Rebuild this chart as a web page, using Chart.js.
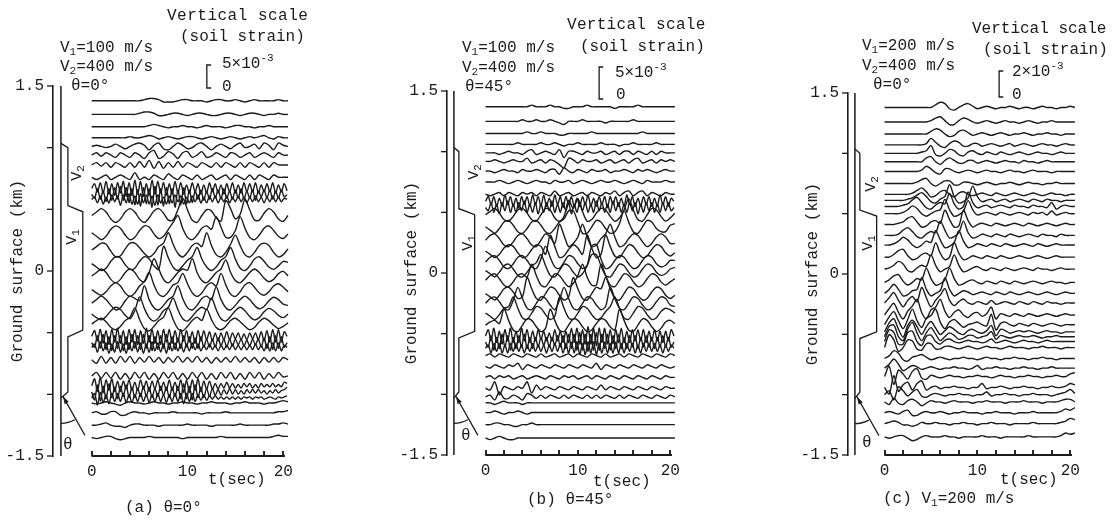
<!DOCTYPE html>
<html>
<head>
<meta charset="utf-8">
<script src="https://cdn.jsdelivr.net/npm/chart.js@4.4.1/dist/chart.umd.min.js"></script>
<style>
  body { margin: 0; background: #fff; width: 1116px; height: 520px; position: relative; overflow: hidden;
         font-family: "Liberation Mono", monospace; color: #1b1b1b; }
  canvas { position: absolute; top: 0; }
  #overlay { left: 0; z-index: 3; pointer-events: none; }
  .t { position: absolute; white-space: nowrap; font-size: 16px; line-height: 18px; z-index: 2; }
  .rot { position: absolute; white-space: nowrap; font-size: 15px; line-height: 16px; transform: translate(-50%, -50%) rotate(-90deg); z-index: 2; }
  sub { font-size: 11px; vertical-align: -3px; line-height: 0; }
  sup { font-size: 11px; vertical-align: 7px; line-height: 0; }
</style>
</head>
<body>
<canvas id="panelA"></canvas>
<canvas id="panelB"></canvas>
<canvas id="panelC"></canvas>

<!-- panel (a) -->
<div class="t" style="left:167px;top:7px;letter-spacing:0.5px">Vertical scale</div>
<div class="t" style="left:180px;top:28px">(soil strain)</div>
<div class="t" style="left:60px;top:39px">V<sub>1</sub>=100 m/s</div>
<div class="t" style="left:60px;top:58px">V<sub>2</sub>=400 m/s</div>
<div class="t" style="left:71px;top:77px">θ=0°</div>
<div class="t" style="left:222px;top:55px">5×10<sup>-3</sup></div>
<div class="t" style="left:222px;top:78px">0</div>
<div class="t" style="left:208px;top:471px">t(sec)</div>
<div class="t" style="left:125px;top:499px">(a) θ=0°</div>
<div class="rot" style="left:78px;top:173px">V<sub>2</sub></div>
<div class="rot" style="left:73px;top:237px">V<sub>1</sub></div>
<div class="t" style="left:63px;top:436px">θ</div>

<!-- panel (b) -->
<div class="t" style="left:567px;top:16px;letter-spacing:0.3px">Vertical scale</div>
<div class="t" style="left:580px;top:38px">(soil strain)</div>
<div class="t" style="left:462px;top:39px">V<sub>1</sub>=100 m/s</div>
<div class="t" style="left:462px;top:59px">V<sub>2</sub>=400 m/s</div>
<div class="t" style="left:465px;top:78px">θ=45°</div>
<div class="t" style="left:615px;top:64px">5×10<sup>-3</sup></div>
<div class="t" style="left:616px;top:86px">0</div>
<div class="t" style="left:593px;top:473px">t(sec)</div>
<div class="t" style="left:527px;top:491px">(b) θ=45°</div>
<div class="rot" style="left:475px;top:172px">V<sub>2</sub></div>
<div class="rot" style="left:469px;top:243px">V<sub>1</sub></div>
<div class="t" style="left:461px;top:427px">θ</div>

<!-- panel (c) -->
<div class="t" style="left:972px;top:20px">Vertical scale</div>
<div class="t" style="left:983px;top:41px">(soil strain)</div>
<div class="t" style="left:862px;top:37px">V<sub>1</sub>=200 m/s</div>
<div class="t" style="left:862px;top:57px">V<sub>2</sub>=400 m/s</div>
<div class="t" style="left:873px;top:76px">θ=0°</div>
<div class="t" style="left:1012px;top:63px">2×10<sup>-3</sup></div>
<div class="t" style="left:1012px;top:86px">0</div>
<div class="t" style="left:1000px;top:471px">t(sec)</div>
<div class="t" style="left:883px;top:490px">(c) V<sub>1</sub>=200 m/s</div>
<div class="rot" style="left:872px;top:184px">V<sub>2</sub></div>
<div class="rot" style="left:869px;top:243px">V<sub>1</sub></div>
<div class="t" style="left:862px;top:434px">θ</div>

<canvas id="overlay" width="1116" height="520"></canvas>

<script>
// axis ticks
const timeTicks = [0, 10, 20];
const rulerTicks = [0, 2, 4, 6, 8, 10, 12, 14, 16, 18, 20];
const depthTicks = [-1.5, -1, -0.5, 0, 0.5, 1, 1.5];
const depthLabels = ['-1.5', '', '', '0', '', '', '1.5'];

// soil profile: V2 / V1 / V2 layer boundaries (km)
const layerDepths = [1.0, 0.5, -0.5, -1.0];

// vertical scale bar and amplitude unit of the trace values (strain)
const scaleBar = [5e-3, 5e-3, 2e-3];
const ampUnit = [0.25e-3, 0.25e-3, 0.1e-3];

// sampling of the traces (s): normal and fine (dense bands)
const DT = 0.5;
const DT_FINE = 0.3;

// ---------- (a) theta = 0, V1 = 100 m/s ----------
const depthsA = [1.38, 1.27, 1.17, 1.08, 1.01, 0.94, 0.86, 0.76, 0.67, 0.62, 0.58, 0.45, 0.31, 0.17, 0.06, -0.04,
  -0.15, -0.26, -0.35, -0.43, -0.53, -0.58, -0.62, -0.72, -0.85, -0.93, -0.98, -1.03, -1.07, -1.15, -1.25, -1.35];
const tracesA = [
  [0,0,0,0,0,0,0,0,0,0, 0,1,2,2,1,-1,-1,-1,0,1, 1,0,0,0,-1,0,1,1,0,0, 1,0,-1,0,1,0,0,0,0,1, 0,0],
  [0,0,0,0,0,0,0,0,0,0, 1,2,2,1,-1,-1,0,1,1,0, -1,0,1,1,0,-1,-1,0,1,1, 0,-1,0,1,1,0,-1,0,0,1, 0,0],
  [0,0,0,0,0,0,0,0,0,0, 0,0,1,2,1,0,-1,0,0,1, 0,0,-1,0,1,0,0,0,-1,0, 1,1,0,0,-1,0,0,1,0,0, 0,0],
  [0,0,0,0,0,0,0,0,1,0, 0,1,2,1,-1,0,1,0,-1,0, 1,1,0,-1,0,1,0,-1,0,1, 0,-1,0,1,0,1,2,0,-1,1, 0,0],
  [0,1,0,-1,0,2,0,-2,0,2, 3,1,-3,1,3,-2,-3,0,3,1, -2,-1,2,3,0,-3,0,2,0,-2, 1,3,-1,0,2,-2,3,1,-3,3, 1,0],
  [0,2,-1,2,0,-2,2,0,-2,2, 0,-3,2,4,-3,-1,3,1,-3,2, 3,-2,0,3,-2,-1,2,0,-2,2, 1,-2,0,2,-2,0,2,0,-2,2, 0,0],
  [0,2,-1,2,-2,2,0,-2,2,-2, 3,-2,4,-3,3,-3,2,-2,3,-2, 2,0,-2,2,0,-2,2,-2,2,0, -2,2,-2,2,0,-2,2,-2,2,0, 0,0],
  [0,-2,0,2,-2,0,2,0,-2,4, -2,0,-2,2,0,-2,3,0,-2,2, 0,-2,2,-2,0,2,-2,0,2,-2, 2,0,-2,2,-2,2,0,-2,2,0, 0,0],
  [0,4,-3,5,-4,6,-5,4,-6,5, -4,6,-7,5,-6,7,-5,6,-7,4, -6,7,-5,6,-4,5,-6,4,-5,6, -4,5,-5,3,-4,5,-3,4,-5,3,
   -4,5,-3,4,-4,3,-5,4,-3,5, -4,3,-4,5,-3,4,-3,5,-4,3, -3,4,-3,5,-4,3,-3,4,-2],
  [0,-3,5,-4,3,-6,5,-5,6,-4, 7,-5,6,-7,5,-9,4,-10,6,-8, 5,-11,7,-9,5,-10,6,-8,5,-11, 4,-9,6,-8,4,-7,3,-4,4,-5,
   3,-4,5,-3,4,-4,5,-3,3,-4, 4,-3,5,-4,3,-3,4,-5,3,-2, 4,-3,4,-4,3,-3,4,-2,0],
  [0,2,-3,3,-4,2,-3,4,-2,3, -5,4,-3,5,-4,3,-4,5,-3,4, -4,3,-5,4,-3,2,-4,3,-3,4, -2,3,-4,2,-3,3,-2,4,-3,2,
   -3,3,-2,3,-3,2,-2,3,-3,2, -2,3,-2,2,-3,2,-2,3,-2,2, -3,2,-2,3,-2,2,-2,1,0],
  [0,3,6,3,-3,-6,-3,3,6,3, -3,-6,-2,4,6,2,-4,-4,5,15, 5,-4,-6,0,5,4,-2,-5,13,6, -3,1,14,5,-4,-4,2,6,3,-3, -5,0],
  [0,-3,-6,-3,3,6,4,-2,-6,-4, 2,6,5,-1,-5,-3,3,9,15,4, -4,-6,-2,4,6,3,14,5,-4,-4, 2,14,4,-4,-6,-2,4,6,2,-3, -5,-1],
  [0,3,6,5,-1,-6,-5,1,6,6, 2,-3,-6,-3,3,6,15,5,-3,-6, -2,4,6,3,15,4,-4,-6,-2,5, 13,4,-4,-6,-2,4,6,4,-2,-6, -4,1],
  [0,-3,-6,-4,2,6,5,-1,-5,-4, 2,6,4,-2,-5,15,5,-3,-6,-2, 3,6,14,4,-3,-6,-3,3,6,14, 4,-4,-6,-2,4,6,2,-3,-5,-2, 2,1],
  [0,3,6,3,-3,-6,-3,3,6,3, -3,-5,3,15,6,-3,-6,-2,3,6, 5,15,3,-4,-6,-2,3,6,14,3, -4,-6,-2,3,6,3,-2,-5,-3,2, 4,0],
  [0,-3,-5,-2,3,6,3,-3,-6,-3, 3,7,15,4,-4,-6,-2,4,6,14, 5,-3,-6,-3,3,6,3,14,4,-4, -6,-2,4,6,2,-3,-5,-2,3,5, 2,-2],
  [0,3,6,3,-2,-6,-4,2,6,4, 2,15,3,-4,-6,-2,3,6,15,4, -4,-6,-2,4,6,3,14,3,-4,-6, -2,3,6,3,-2,-5,-3,2,5,3, -1,-2],
  [0,-3,-5,-2,3,6,4,-1,-4,3, 15,5,-3,-6,-3,3,6,14,4,-4, -6,-2,3,6,4,14,4,-4,-6,-2, 3,6,3,-2,-5,-3,2,5,3,-1, -3,0],
  [0,3,5,2,-3,-5,-2,3,6,14, 4,-4,-6,-2,3,6,14,4,-4,-6, -2,3,6,3,13,4,-3,-5,-2,3, 5,2,-2,-5,-3,2,5,3,-1,-4, -2,1],
  [0,5,-4,6,-6,5,-7,6,-5,7, -6,5,-7,6,-5,6,-7,5,-6,7, -5,6,-6,5,-7,6,-5,6,-6,5, -5,6,-4,5,-5,4,-6,5,-4,5,
   -3,4,-4,3,-4,3,-3,4,-3,3, -2,3,-3,2,-3,3,-2,3,-3,4, -4,5,-5,6,-5,6,-5,4,0],
  [0,-4,6,-5,7,-6,5,-7,6,-5, 6,-7,5,-6,7,-5,6,-6,7,-5, 6,-7,5,-6,6,-5,7,-6,5,-6, 4,-5,6,-4,5,-5,4,-5,5,-4,
   3,-4,3,-4,4,-3,3,-4,3,-3, 3,-2,3,-3,2,-3,3,-2,3,-4, 4,-5,5,-6,6,-5,5,-4,0],
  [0,3,-4,5,-3,4,-5,3,-4,5, -4,3,-5,4,-3,5,-4,4,-5,3, -4,5,-3,4,-4,3,-5,4,-3,4, -3,3,-4,3,-3,4,-2,3,-3,2,
   -2,3,-2,2,-3,2,-2,2,-2,3, -2,2,-2,2,-2,2,-2,3,-2,2, -3,3,-3,4,-3,4,-3,2,0],
  [0,-3,3,-3,2,-3,3,-2,3,-3, 2,-2,3,-2,2,-3,2,-2,3,-2, 2,-2,3,-2,2,-3,2,-2,2,-2, 3,-2,2,-2,2,-3,2,-2,2,-2, 2,0],
  [0,3,-2,3,-2,3,-3,2,-3,3, -2,3,-3,2,-3,3,-2,3,-3,2, -3,3,-2,3,-3,2,-3,3,-2,3, -3,2,-3,3,-2,3,-3,2,-2,3, -1,0],
  [0,6,-5,7,-6,5,-4,6,-5,4, -5,4,-3,5,-4,3,-4,5,-3,4, -5,4,-3,5,-4,3,-4,5,-4,3, -4,5,-6,5,-6,5,-4,6,-5,4,
   -3,4,-3,2,-3,2,-2,3,-2,2, -2,1,-2,2,-1,2,-2,1,-2,2, -1,1,-1,2,-1,1,-1,3,2],
  [0,-7,6,-8,5,-6,7,-5,4,-6, 5,-4,6,-5,4,-5,3,-4,5,-4, 4,-5,3,-4,5,-3,4,-5,4,-4, 5,-6,7,-6,5,-7,6,-5,4,-5,
   3,-4,3,-3,2,-3,2,-2,3,-2, 2,-2,1,-2,2,-1,2,-1,2,-1, 1,-2,1,-1,2,-1,1,2,4],
  [0,4,-6,5,-4,3,-5,4,-3,4, -3,4,-4,3,-4,3,-3,4,-3,3, -4,3,-3,4,-3,3,-4,3,-3,4, -3,4,-5,4,-3,4,-3,3,-2,3,
   -2,2,-1,2,-1,1,-1,1,-1,1, -1,1,-1,1,0,1,-1,1,0,1, -1,0,1,0,-1,1,0,1,2],
  [0,-1,0,1,0,-1,-2,0,1,0, 0,-1,0,1,0,0,-1,0,0,1, 0,0,-1,0,0,1,0,0,0,-1, 0,0,1,0,0,0,-1,0,0,1, 2,1],
  [0,1,-1,-1,1,1,-2,-2,0,1, 0,0,-1,0,0,0,0,1,0,0, 0,0,0,-1,0,0,0,0,1,0, 0,0,0,0,0,0,0,0,0,1, 1,2],
  [0,0,1,2,0,-1,-1,-2,0,1, 1,0,0,0,-1,0,0,0,0,0, 1,0,0,0,0,-1,0,0,0,0, 0,1,0,0,0,0,0,0,1,1, 2,1],
  [0,-1,0,1,1,-1,-2,-1,0,0, 0,0,1,0,0,0,0,0,0,-1, 0,0,0,0,0,0,0,1,0,0, 0,0,0,0,0,0,0,0,1,2, 1,1]
];

// ---------- (b) theta = 45, V1 = 100 m/s ----------
const depthsB = [1.37, 1.25, 1.15, 1.06, 0.99, 0.92, 0.84, 0.75, 0.65, 0.59, 0.54, 0.48, 0.38, 0.27, 0.18, 0.09, 0.02,
  -0.06, -0.17, -0.25, -0.33, -0.43, -0.52, -0.57, -0.62, -0.68, -0.77, -0.86, -0.95, -1.02, -1.07, -1.15, -1.25, -1.36];
const tracesB = [
  [0,0,0,0,0,0,0,0,0,0, 1,0,0,0,1,0,0,-1,-1,0, 0,0,1,0,0,0,0,0,-1,0, 0,0,0,1,0,0,0,0,0,0, 0,0],
  [0,0,0,0,0,0,0,0,1,0, 0,1,0,0,1,0,-1,-2,0,0, 0,1,0,0,0,0,-1,0,0,0, 0,0,1,0,0,0,0,0,0,0, 0,0],
  [0,0,0,0,0,0,0,0,0,1, 0,0,1,0,0,0,-1,-1,0,0, 0,0,0,1,0,0,0,0,0,0, 0,0,0,0,1,0,0,0,0,0, 0,0],
  [0,0,0,0,0,0,0,1,0,0, 0,0,1,0,0,1,0,-1,0,0, 1,0,0,0,0,1,0,0,0,-1, 0,0,1,0,0,0,0,1,0,0, 0,0],
  [0,0,0,-1,0,1,0,0,-1,1, 2,-1,0,1,0,-1,2,-3,1,1, 0,-1,1,0,0,1,-1,0,1,-1, 1,1,-1,1,0,-1,1,-1,1,0, 0,0],
  [0,0,1,0,-1,0,1,0,0,2, -1,0,1,-1,1,0,-2,-4,2,1, -1,1,0,0,1,-1,0,1,-1,0, 1,-1,1,2,-1,0,1,-1,1,0, 1,0],
  [0,0,-1,0,1,0,0,-1,1,0, 0,1,0,-1,1,1,-2,2,0,-1, 1,0,-1,1,0,0,1,-1,0,0, 1,0,-1,1,0,1,0,-1,0,1, 0,0],
  [0,0,0,1,0,-1,0,1,0,-1, 0,1,0,0,-1,1,0,0,1,-1, 0,1,0,-1,0,1,0,0,1,0, -1,0,1,0,-1,1,0,0,0,1, 0,0],
  [0,-1,0,1,-1,1,0,-1,1,0, 1,-1,1,0,-1,2,-1,0,1,-1, 0,1,-1,1,0,-1,1,0,2,-1, 1,2,-1,1,2,-1,1,0,-1,1, 0,0],
  [0,3,-2,3,-3,2,-3,4,-2,3, -3,2,-4,3,-2,3,-3,4,-2,3, -3,4,-3,2,-3,4,-2,3,-4,3, -2,3,-3,2,-3,3,-2,4,-3,2,
   -3,3,-2,3,-4,3,-2,3,-3,2, -3,4,-2,3,-3,2,-3,3,-2,3, -3,2,-3,4,-2,3,-3,2,0],
  [0,-2,3,-3,2,-4,3,-2,4,-3, 2,-3,3,-2,4,-3,2,-3,3,-4, 2,-3,3,-2,4,-3,2,-3,3,-2, 3,-4,2,-3,3,-2,3,-3,2,-3,
   4,-2,3,-3,2,-3,4,-2,3,-3, 2,-3,3,-2,3,-4,2,-3,3,-2, 3,-3,2,-3,3,-2,3,-2,0],
  [0,2,4,1,-3,-4,-1,3,4,1, -3,-4,0,4,3,-2,-4,-1,9,4, 10,2,-4,-3,1,4,3,-1,-4,-2, 3,10,3,-3,-4,0,4,3,-1,-4, -2,1],
  [0,-2,-4,-1,3,4,1,-3,-4,-1, 3,4,1,-3,-4,-1,3,5,10,10, 3,-4,-4,0,4,3,-1,-4,-3,2, 10,3,-3,-4,0,4,3,-1,-3,-3, 1,2],
  [0,3,4,1,-3,-4,-1,3,4,1, -3,-4,0,4,2,-2,10,3,-4,-2, 2,10,2,-4,-3,1,4,10,2,-4, -3,1,4,3,-1,-4,-2,2,4,2, -2,-2],
  [0,-2,-4,-2,2,4,3,-1,-4,-3, 1,4,3,-2,10,3,-4,-3,1,4, 2,-2,10,2,-4,-2,10,3,-3,-4, 0,4,3,-1,-4,-3,1,4,3,-1, -3,-1],
  [0,3,4,1,-3,-4,-1,3,4,1, -3,-4,2,10,3,-3,-4,0,4,3, -1,-4,-2,10,11,2,-4,-3,1,4, 3,-1,-4,-3,1,4,3,-1,-3,-2, 1,1],
  [0,-2,-4,-1,3,4,1,-3,-4,-1, 3,5,10,3,-3,-4,0,4,3,-1, -4,-2,3,10,10,3,-3,-4,0,4, 3,-1,-4,-3,1,4,3,-1,-3,-2, 1,2],
  [0,3,4,1,-3,-4,-1,3,4,2, 10,3,-3,-4,0,4,3,-1,-4,-2, 3,10,2,-3,-3,10,3,-3,-4,0, 4,3,-1,-4,-3,1,4,3,-1,-3, -1,1],
  [0,-2,-4,-1,3,4,1,-3,-2,10, 3,-3,-4,0,4,3,-1,-4,-2,10, 3,-3,-4,0,4,3,10,3,-3,-4, 0,4,3,-1,-4,-3,1,4,3,-1, -3,-1],
  [0,3,4,1,-3,-4,2,10,3,-3, -4,0,4,3,-1,-4,2,10,3,-3, -4,0,4,3,-1,-4,-2,10,3,-3, -4,0,4,3,-1,-4,-3,1,4,3, -1,-2],
  [0,-2,-4,-1,3,4,10,3,-3,-4, 0,4,3,-1,-4,-2,10,3,-3,-4, 0,4,3,-1,-4,-3,1,4,10,3, -3,-4,0,4,3,-1,-4,-3,1,3, 2,0],
  [0,2,3,1,10,3,-3,-4,0,4, 3,-1,-4,-2,10,3,-3,-4,0,4, 3,-1,-4,-3,1,4,3,-1,-3,10, 3,-3,-4,0,4,3,-1,-4,-2,2, 3,1],
  [0,4,-3,5,-4,3,-5,4,-3,5, -4,3,-4,5,-3,4,-4,3,-3,4, -2,3,-3,2,-3,4,-3,3,-4,3, -4,5,-4,5,-5,4,-5,6,-5,5,
   -6,5,-4,5,-5,4,-5,4,-4,5, -4,3,-4,4,-3,4,-3,4,-4,3, -3,4,-3,3,-4,3,-3,4,0],
  [0,-3,4,-5,3,-4,5,-3,4,-5, 3,-4,4,-3,5,-4,3,-4,3,-3, 3,-2,3,-3,3,-2,4,-3,4,-4, 5,-4,5,-5,6,-5,5,-6,5,-5,
   6,-5,5,-4,5,-5,4,-4,5,-4, 3,-4,4,-3,4,-4,3,-3,4,-3, 3,-4,3,-3,4,-3,3,-3,0],
  [0,2,-3,3,-2,3,-3,2,-3,3, -2,3,-2,2,-3,2,-2,3,-2,2, -2,2,-3,2,-2,3,-2,3,-3,3, -3,4,-3,4,-4,3,-4,4,-3,4,
   -4,3,-3,4,-3,3,-3,4,-3,3, -3,3,-2,3,-3,2,-3,3,-2,3, -2,3,-2,2,-3,2,-2,2,0],
  [0,1,-1,1,0,-1,1,0,-1,1, 0,-1,1,-1,0,1,-1,0,1,-1, 1,0,-1,1,0,-1,1,-1,0,1, -1,1,0,-1,1,0,-1,1,0,-1, 1,0],
  [0,-1,1,0,-1,1,0,2,-2,1, 0,-1,1,0,-1,1,0,-1,1,0, -1,1,0,-1,2,-2,1,0,-1,1, 0,-1,1,0,-1,1,0,-1,1,0, -1,0],
  [0,1,-1,1,0,1,-1,0,1,-1, 0,1,0,-1,1,0,-1,1,0,1, -1,0,1,-1,1,0,-1,1,0,-1, 1,0,-1,1,0,-1,1,0,-1,1, 0,0],
  [0,-1,4,-4,1,0,-1,1,0,4, -3,2,-1,1,0,-1,1,0,-1,1, 0,-1,1,0,-1,2,-1,1,0,-1, 1,0,-1,1,0,-1,1,0,-1,1, 0,0],
  [0,1,-2,3,-1,-1,1,0,-2,2, 1,-1,1,-1,1,0,-1,1,-1,1, 0,-1,1,-1,1,-1,1,0,-1,1, -1,1,0,-1,1,0,-1,1,0,-1, 1,0],
  [0,0,-1,0,1,0,0,0,-1,0, 0,0,0,0,0,0,0,0,0,0, 0,0,0,0,0,0,0,0,0,0, 0,0,0,0,0,0,0,0,0,0, 0,0],
  [0,0,1,0,-1,0,0,1,0,-1, 0,0,0,0,0,0,0,0,0,0, 0,0,0,0,0,0,0,0,0,0, 0,0,0,0,0,0,0,0,0,0, 0,0],
  [0,0,1,1,0,0,-1,-1,0,0, 1,0,0,0,0,0,0,0,0,0, 0,0,0,0,0,0,0,0,0,0, 0,0,0,0,0,0,0,0,0,0, 0,0],
  [0,-1,0,1,0,-1,-1,0,0,0, 0,0,0,0,0,0,0,0,0,0, 0,0,0,0,0,0,0,0,0,0, 0,0,0,0,0,0,0,0,0,0, 0,0]
];

// ---------- (c) theta = 0, V1 = 200 m/s ----------
const depthsC = [1.38, 1.26, 1.16, 1.07, 1.00, 0.93, 0.85, 0.75, 0.66, 0.61, 0.56, 0.50, 0.41, 0.32, 0.24, 0.14, 0.04,
  -0.07, -0.16, -0.24, -0.34, -0.42, -0.48, -0.52, -0.56, -0.61, -0.70, -0.78, -0.85, -0.94, -1.00, -1.06, -1.15, -1.24, -1.35];
const tracesC = [
  [0,0,0,0,0,0,0,0,0,0, 0,2,4,3,-1,-2,0,2,3,1, -1,0,1,0,-1,0,0,1,0,-1, 0,0,-1,0,1,0,0,-1,0,0, 1,0],
  [0,0,0,0,0,0,0,0,0,0, 1,3,4,1,-2,-2,1,3,2,0, -1,0,1,0,-1,0,1,0,0,-1, 0,1,0,-1,0,0,1,0,0,0, 0,0],
  [0,0,0,0,0,0,0,0,0,0, 2,4,3,0,-2,-1,2,3,1,-1, 0,1,0,-1,0,1,0,-1,0,0, 1,0,-1,0,0,1,0,0,-1,0, 0,0],
  [0,0,0,0,0,0,0,0,0,1, 5,2,-1,-2,1,3,2,-1,-1,1, 1,-1,0,1,0,-1,0,1,-1,0, 1,0,-1,0,1,0,0,-1,0,1, 0,0],
  [0,0,0,0,0,0,0,0,1,2, 6,-1,-2,0,3,2,-1,-2,1,2, 0,-1,1,0,-1,1,0,-1,0,1, 0,-1,0,1,0,0,-1,0,1,0, 0,0],
  [0,0,0,0,0,0,0,0,0,3, 4,0,-2,1,3,1,-1,-1,1,1, -1,0,1,0,-1,0,1,0,0,-1, 1,0,0,-1,0,1,0,0,0,0, 0,0],
  [0,0,0,0,0,0,0,0,1,4, 2,-1,-2,2,2,0,-1,0,1,0, -1,0,1,0,0,-1,0,1,0,0, -1,0,1,0,0,0,-1,0,0,0, 0,0],
  [0,0,0,0,0,0,0,1,3,4, 0,-2,0,2,2,-1,-1,1,1,0, -1,0,1,0,-1,0,0,1,0,-1, 0,1,0,0,-1,0,0,1,0,0, 0,0],
  [0,0,0,0,0,0,1,3,5,2, -2,-1,2,3,0,-2,1,2,0,-1, 0,1,0,-1,1,0,-1,0,1,0, -1,0,1,0,-1,0,1,0,0,-1, 0,0],
  [0,0,0,0,0,1,2,4,6,3, -1,-2,1,3,12,3,-2,-1,2,11, 3,-1,0,1,-1,0,1,-1,0,1, 0,-1,1,0,-1,1,0,0,-1,0, 0,0],
  [0,0,0,0,1,2,5,7,3,-1, -2,1,3,2,10,2,-2,0,11,3, -1,0,1,-1,0,1,0,-1,1,0, 0,-1,1,0,0,-1,3,-2,0,1, 0,0],
  [0,0,0,0,1,3,6,4,0,-2, 0,2,3,11,3,-2,-1,2,10,3, -1,0,1,0,-1,1,0,-1,0,1, 0,-1,1,0,1,-1,2,-1,0,1, 0,0],
  [0,0,0,1,2,5,6,2,-2,-1, 2,3,1,11,4,-2,-1,11,3,-2, 0,1,0,-1,1,0,-1,0,1,0, -1,1,0,-1,0,1,0,-1,0,1, 0,0],
  [0,0,0,1,4,6,3,-1,-2,1, 3,2,11,4,-2,-1,2,11,2,-2, -1,1,0,-1,1,0,-1,1,0,-1, 0,1,0,-1,1,0,0,-1,1,0, 0,0],
  [0,0,1,3,6,4,0,-2,0,3, 2,11,4,-2,-1,2,11,3,-2,-1, 1,0,-1,1,0,-1,1,0,-1,0, 1,0,-1,1,0,-1,0,1,0,0, 0,0],
  [0,0,2,5,6,1,-2,-1,2,3, 1,11,3,-2,0,11,3,-2,-1,1, 0,-1,1,0,-1,1,0,-1,0,1, 0,-1,0,1,0,-1,0,1,0,0, 0,0],
  [0,1,3,6,4,-1,-2,1,3,2, 11,3,-2,0,2,11,3,-2,-1,1, 2,0,-1,1,0,-1,1,0,-1,0, 1,0,-1,1,0,0,-1,0,1,0, 0,0],
  [0,2,5,6,1,-2,0,3,2,11, 3,-2,-1,2,11,3,-2,-1,1,2, 0,-1,1,0,-1,1,0,-1,1,0, -1,0,1,0,-1,0,1,0,0,-1, 0,0],
  [0,3,7,3,-2,-1,2,3,12,3, -2,0,2,12,3,-2,0,2,1,-1, 0,1,0,-1,1,0,-1,1,0,-1, 0,1,0,-1,0,1,0,-1,0,1, 0,0],
  [0,4,8,2,-3,2,5,1,12,4, -3,2,6,11,2,-2,1,3,0,-1, 1,0,-1,2,-1,0,1,0,-1,1, 0,-1,1,0,-1,1,0,0,-1,0, 0,0],
  [0,5,9,2,-3,3,7,12,2,-3, 4,6,12,3,-2,2,4,0,-2,1, 2,-1,1,6,-3,1,0,-1,1,0, -1,1,0,-1,0,1,0,-1,0,1, 0,0],
  [0,6,10,3,-3,4,12,3,-2,5, 7,12,2,-3,2,4,1,-2,0,1, 2,0,-1,8,-4,1,2,0,-1,1, 0,-1,1,0,-1,0,1,0,-1,0, 0,0],
  [0,7,10,2,-4,5,9,4,-2,4, 8,3,-2,1,4,2,-1,-2,1,2, 0,-1,1,5,-3,2,1,-1,0,1, 0,1,0,-1,0,1,0,0,-1,0, 0,0],
  [0,8,9,0,-3,6,11,3,-3,3, 7,2,-3,0,3,1,-2,-1,1,1, -1,0,1,4,-2,1,0,-1,0,1, 0,0,1,0,-1,0,0,1,0,0, 0,0],
  [0,9,7,-2,-2,7,8,0,-3,4, 5,0,-2,1,2,0,-1,0,1,0, 0,-1,0,2,-1,0,1,0,-1,0, 1,0,0,-1,0,1,0,0,0,0, 0,0],
  [0,10,6,-3,0,6,5,-1,-2,3, 3,-1,-1,1,1,0,-1,0,1,0, -1,0,1,0,0,-1,0,1,0,0, 0,-1,0,0,1,0,0,0,-1,0, 0,0],
  [0,2,6,4,-1,-2,1,2,3,1, -1,0,1,0,-1,0,0,1,0,0, -1,0,1,0,0,-1,0,0,1,0, 0,-1,0,0,1,0,0,-1,0,0, 0,0],
  [0,3,7,3,-2,0,2,1,-1,0, 1,0,-1,0,0,1,0,0,-1,0, 2,-1,0,0,1,0,0,-1,0,0, 1,0,0,-1,0,0,1,0,0,0, 0,0],
  [0,8,-6,5,2,-2,4,6,-1,-2, 1,0,-1,0,1,0,0,-1,0,0, 1,0,0,-1,0,1,0,0,-1,0, 0,1,0,0,-1,0,0,1,0,0, 2,3],
  [0,-5,9,-3,2,4,-2,3,5,-2, 0,1,-1,0,0,1,0,0,-1,0, 0,3,-1,0,0,1,0,-1,0,0, 1,0,0,-1,0,0,1,0,0,1, 3,2],
  [0,3,-4,6,3,-1,2,4,-1,-2, 0,1,0,-1,0,0,1,0,0,-1, 0,0,2,-1,0,0,1,0,0,-1, 0,0,1,0,0,0,-1,0,1,2, 4,1],
  [0,-2,3,-1,-2,1,2,0,-3,-1, 1,0,0,-1,0,1,0,0,0,-1, 0,0,1,0,0,0,-1,0,0,0, 1,0,0,0,-1,0,0,0,1,2, 2,0],
  [0,1,0,-1,1,2,-2,-2,0,1, 0,0,1,0,-1,0,0,1,0,0, 0,-1,0,0,1,0,0,0,-1,0, 0,0,1,0,0,0,0,0,1,3, 2,4],
  [0,1,2,1,-1,-1,-2,-1,1,0, 0,1,0,0,-1,0,0,1,0,0, -1,0,0,1,0,0,0,-1,0,0, 0,0,1,0,0,0,0,0,1,2, 4,3],
  [0,-1,0,1,1,-1,-3,-2,0,1, 0,0,0,1,0,0,-1,0,0,0, 0,1,0,0,0,-1,0,0,0,0, 0,1,0,0,0,0,0,0,1,3, 2,3]
];

// page layout of each panel (pixels)
const LAYOUT = {
  a: { axisX: 53,  x0: 92,  pps: 9.65, yTop: 86, yBot: 456, line2: 61,  v2x: 68,  v1x: 83,  barX: 208,  barY: 88, barPx: 23 },
  b: { axisX: 447, x0: 486, pps: 9.35, yTop: 91, yBot: 455, line2: 454, v2x: 459, v1x: 475, barX: 601,  barY: 99, barPx: 32 },
  c: { axisX: 848, x0: 885, pps: 9.4,  yTop: 93, yBot: 455, line2: 855, v2x: 860, v1x: 877, barX: 1001, barY: 97, barPx: 26 }
};

const INK = '#1b1b1b';
Chart.defaults.font.family = '"Liberation Mono", monospace';
Chart.defaults.font.size = 16;
Chart.defaults.color = INK;

function tOf(lay, px) { return (px - lay.x0) / lay.pps; }

// time ruler under the traces, positioned through the chart's own scales
function drawRuler(ctx, chart, dx) {
  const xs = chart.scales.x, ys = chart.scales.y;
  const ry = Math.round(ys.getPixelForValue(-1.5));
  const r0 = xs.getPixelForValue(rulerTicks[0]) + dx;
  const r1 = xs.getPixelForValue(rulerTicks[rulerTicks.length - 1]) + dx;
  ctx.save();
  ctx.fillStyle = INK;
  ctx.fillRect(r0, ry - 1, r1 - r0 + 1.5, 2);
  rulerTicks.forEach(tv => {
    const rx = Math.round(xs.getPixelForValue(tv) + dx);
    ctx.fillRect(rx - 0.7, ry - 5, 1.5, 5);
  });
  ctx.restore();
}

// depth tick marks, theta arrow and ruler drawn on the chart canvas
function axisMarks(lay) {
  return {
    id: 'axisMarks',
    afterDatasetsDraw(chart) {
      const { ctx, scales } = chart;
      const xs = scales.x, ys = scales.y;
      ctx.save();
      ctx.strokeStyle = INK;
      ctx.fillStyle = INK;
      ctx.lineWidth = 1.3;

      const ax = xs.getPixelForValue(xs.min);
      depthTicks.forEach(dv => {
        const ty = ys.getPixelForValue(dv);
        ctx.beginPath();
        ctx.moveTo(ax - 6, ty);
        ctx.lineTo(ax, ty);
        ctx.stroke();
      });

      const cx = xs.getPixelForValue(tOf(lay, lay.line2));
      const cy = ys.getPixelForValue(layerDepths[3]);
      ctx.lineWidth = 1.2;
      ctx.beginPath();
      ctx.arc(cx, cy, 29, Math.PI / 2 - 0.5, Math.PI / 2);
      ctx.stroke();
      const hx = cx + 2, hy = cy + 2, tx = cx + 24, ty2 = cy + 41;
      ctx.beginPath();
      ctx.moveTo(tx, ty2);
      ctx.lineTo(hx, hy);
      ctx.stroke();
      const ang = Math.atan2(hy - ty2, hx - tx);
      ctx.beginPath();
      ctx.moveTo(hx, hy);
      ctx.lineTo(hx - 8 * Math.cos(ang - 0.3), hy - 8 * Math.sin(ang - 0.3));
      ctx.lineTo(hx - 8 * Math.cos(ang + 0.3), hy - 8 * Math.sin(ang + 0.3));
      ctx.closePath();
      ctx.fill();
      ctx.restore();
    },
    afterDraw(chart) {
      drawRuler(chart.ctx, chart, 0);
    }
  };
}

function buildPanel(id, lay, depths, traces, k) {
  const ppkm = (lay.yBot - lay.yTop) / 3;
  const kmPerUnit = ampUnit[k] * lay.barPx / (ppkm * scaleBar[k]);
  const xmin = tOf(lay, lay.axisX);
  const LEFT = 60, RIGHT = 4;

  const canvas = document.getElementById(id);
  canvas.width = Math.round(LEFT + (21 - xmin) * lay.pps + RIGHT);
  canvas.height = 520;
  canvas.style.left = (lay.axisX - LEFT) + 'px';

  const line = (data, extra) => Object.assign({
    type: 'line', data, borderColor: INK, borderWidth: 1.4, pointRadius: 0, tension: 0, fill: false
  }, extra || {});

  const datasets = traces.map((vals, i) => {
    const dt = vals.length > 42 ? DT_FINE : DT;
    return line(vals.map((v, j) => ({ x: j * dt, y: depths[i] + v * kmPerUnit })), { tension: 0.3 });
  });

  // soil profile beside the depth axis
  const xl2 = tOf(lay, lay.line2), xv2 = tOf(lay, lay.v2x), xv1 = tOf(lay, lay.v1x);
  const d = layerDepths;
  datasets.push(line([{ x: xl2, y: 1.5 }, { x: xl2, y: -1.5 }], { borderWidth: 1.5, clip: false }));
  datasets.push(line([
    { x: xl2, y: d[0] + 0.035 }, { x: xv2, y: d[0] }, { x: xv2, y: d[1] + 0.03 }, { x: xv1, y: d[1] - 0.02 },
    { x: xv1, y: d[2] + 0.02 }, { x: xv2, y: d[2] - 0.035 }, { x: xv2, y: d[3] + 0.02 }, { x: xl2, y: d[3] - 0.03 }
  ], { borderWidth: 1.3 }));

  // vertical scale bracket
  const bx = tOf(lay, lay.barX);
  const base = 1.5 - (lay.barY - lay.yTop) / ppkm;
  const top = base + scaleBar[k] * kmPerUnit / ampUnit[k];
  datasets.push(line([
    { x: bx + 0.45, y: top }, { x: bx, y: top }, { x: bx, y: base }, { x: bx + 0.45, y: base }
  ], { borderWidth: 1.3, clip: false }));

  const chart = new Chart(canvas, {
    type: 'line',
    data: { datasets },
    options: {
      responsive: false,
      animation: false,
      events: [],
      layout: { padding: { top: lay.yTop, right: RIGHT, left: 0, bottom: 0 } },
      plugins: { legend: { display: false }, tooltip: { enabled: false } },
      scales: {
        x: {
          type: 'linear', min: xmin, max: 21,
          afterBuildTicks: s => { s.ticks = timeTicks.map(v => ({ value: v })); },
          afterFit: s => { s.height = 520 - lay.yBot; },
          grid: { display: false, drawTicks: false },
          border: { display: false },
          ticks: { padding: 6, maxRotation: 0, autoSkip: false, color: INK }
        },
        y: {
          type: 'linear', min: -1.5, max: 1.5,
          afterBuildTicks: s => { s.ticks = depthTicks.map(v => ({ value: v })); },
          afterFit: s => { s.width = LEFT; },
          ticks: { callback: v => depthLabels[depthTicks.indexOf(v)] || '', padding: 9, autoSkip: false, color: INK },
          grid: { display: false, drawTicks: false },
          border: { display: true, color: INK, width: 1.6 },
          title: { display: true, text: 'Ground surface (km)', color: INK, padding: { top: 15, bottom: 0 } }
        }
      }
    },
    plugins: [axisMarks(lay)]
  });
  return { chart, offset: lay.axisX - LEFT };
}

const panels = [
  buildPanel('panelA', LAYOUT.a, depthsA, tracesA, 0),
  buildPanel('panelB', LAYOUT.b, depthsB, tracesB, 1),
  buildPanel('panelC', LAYOUT.c, depthsC, tracesC, 2)
];

// rulers again on a top-level overlay, from the same chart scales
const overlayCtx = document.getElementById('overlay').getContext('2d');
panels.forEach(p => drawRuler(overlayCtx, p.chart, p.offset));
</script>
</body>
</html>
